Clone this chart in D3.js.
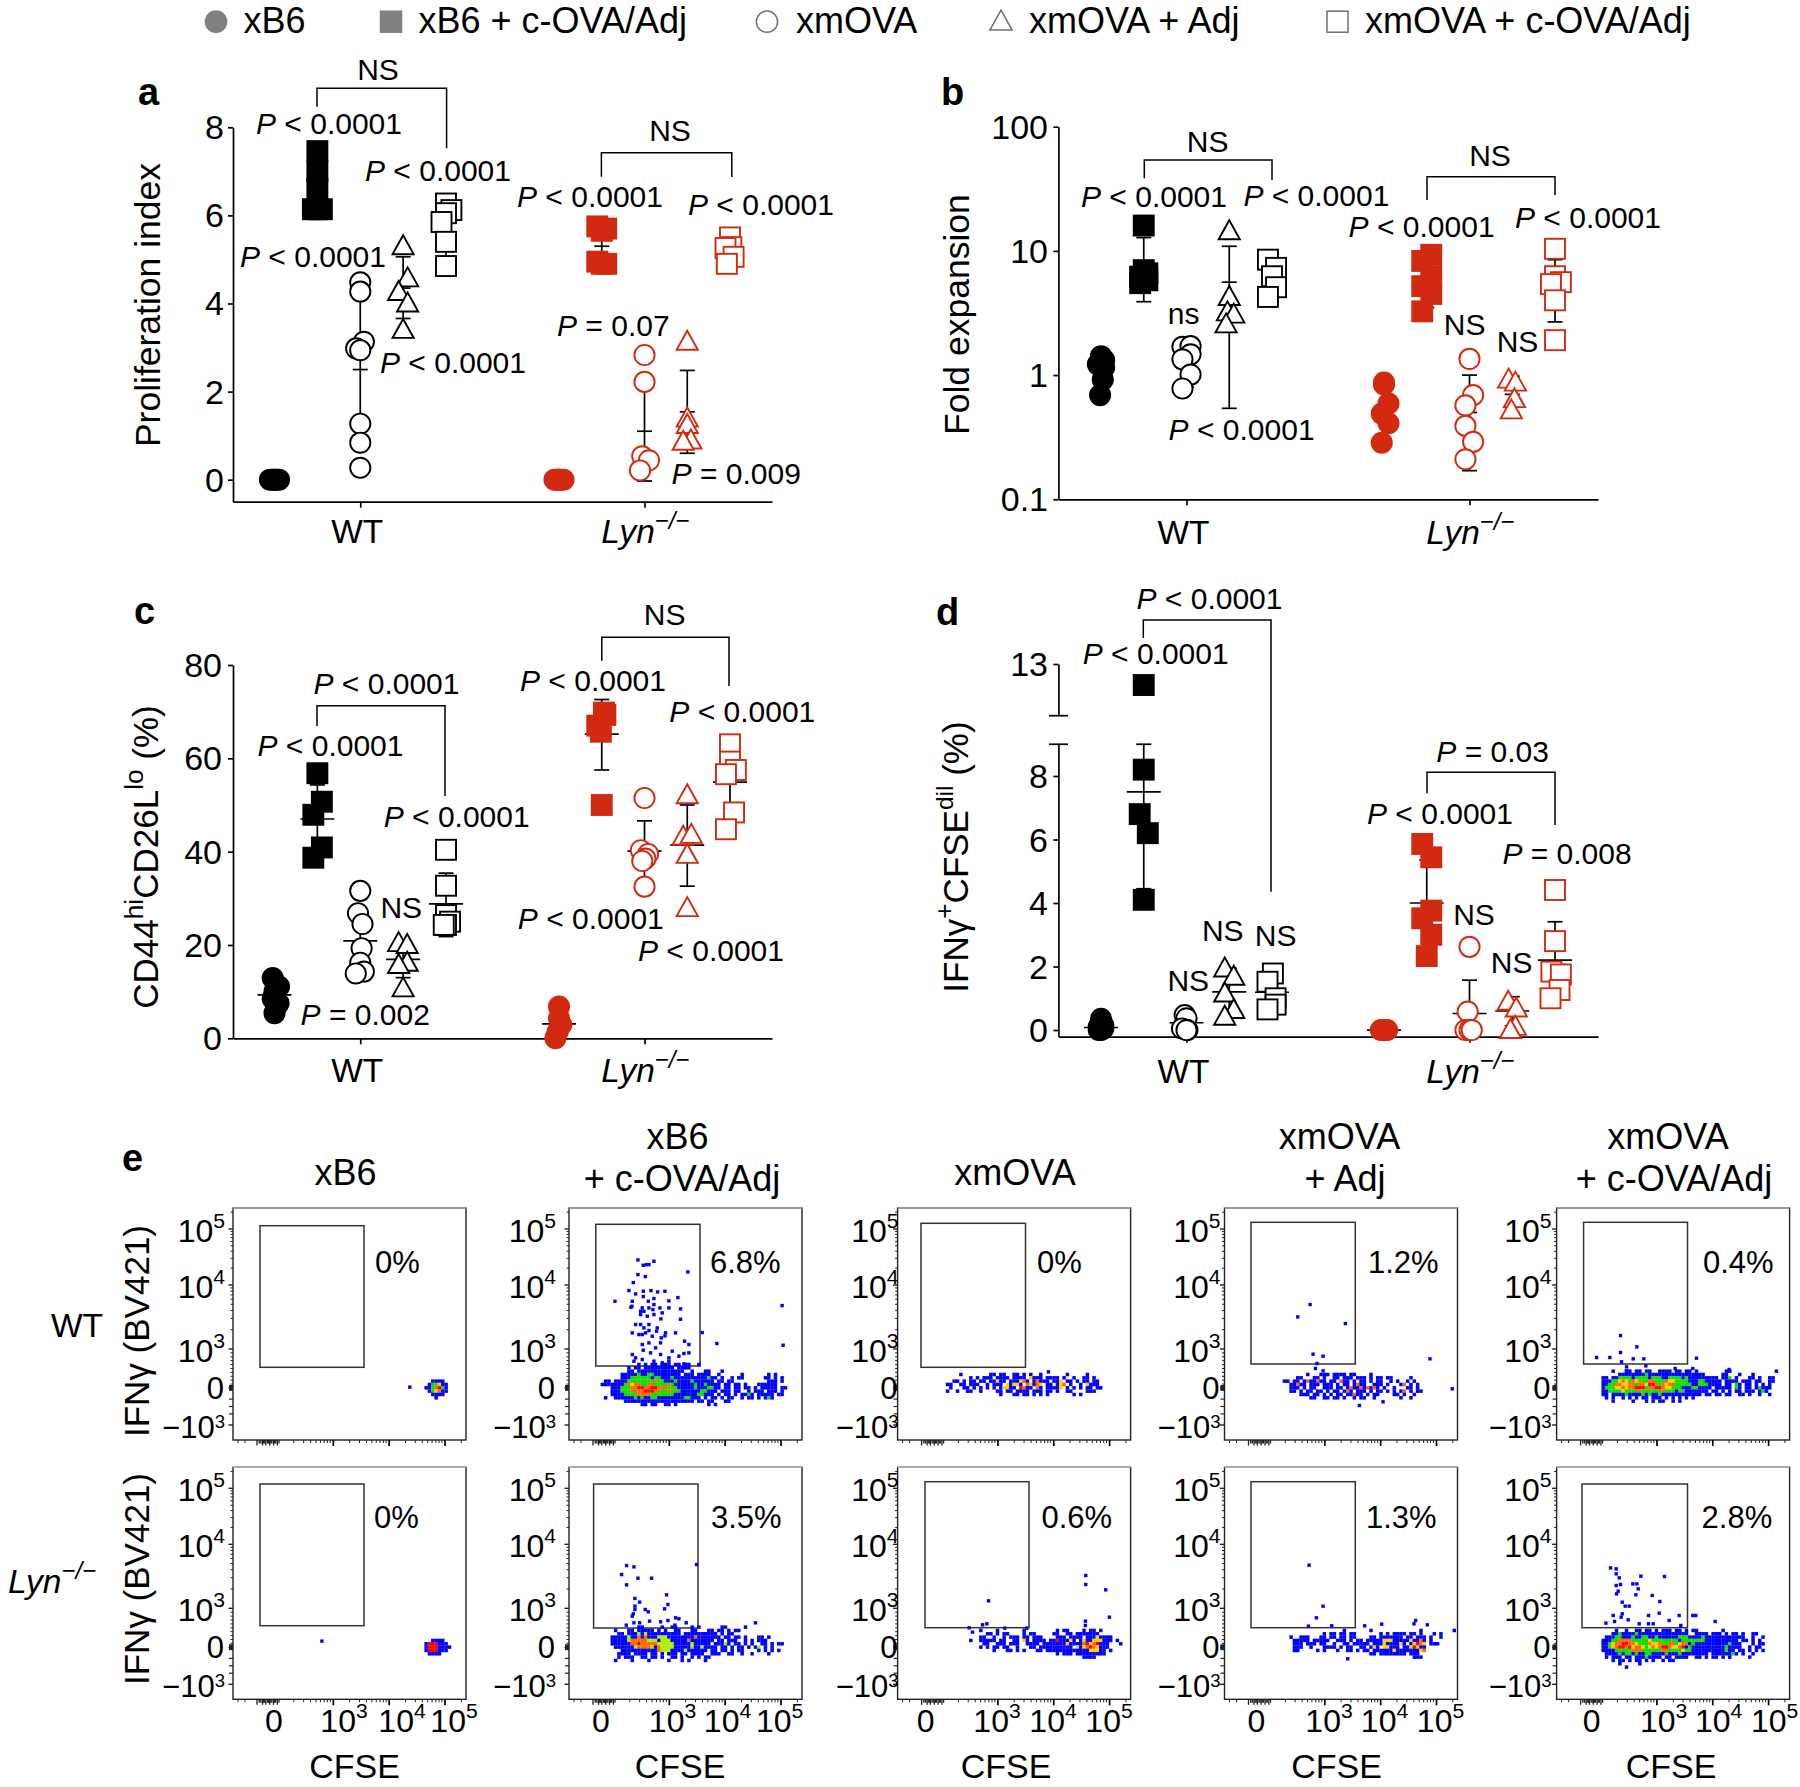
<!DOCTYPE html>
<html><head><meta charset="utf-8">
<script src="https://cdn.jsdelivr.net/npm/d3@7"></script>
<style>html,body{margin:0;padding:0;background:#fff}svg{display:block}text{font-family:"Liberation Sans",Arial,sans-serif;fill:#000}</style>
</head><body>
<svg id="c" width="1800" height="1787"></svg>
<script>
// ---------- categories & legend
const treatments = ["xB6","xB6 + c-OVA/Adj","xmOVA","xmOVA + Adj","xmOVA + c-OVA/Adj"];
const shapes = ["circle","square","circle","triangle","square"];
const filled = [1,1,0,0,0];
// ---------- panel a (10 groups: 5 WT then 5 Lyn-/-)
const aVals=[[0,0,0,0,0,0],[7.46,7.0,6.6,6.14,6.14,6.14],[4.48,4.27,3.13,2.98,2.94,1.27,.84,.27],[5.3,4.57,4.26,4,3.4],[6.27,6.12,6.05,5.85,5.4,4.85],
 [0,0,0,0,0,0],[5.75,5.7,5.65,4.95,4.9,4.9],[2.83,2.22,.53,.44,.21],[3.13,1.39,1.24,.89,.86],[5.5,5.28,5.26,5.06,4.9]];
const aSwarm=[[-1,-.5,0,.5,1,0],[0,0,0,-1,1,0],[0,0,.8,-.9,0,0,0,0],[0,1,-1,1,0],[0,1.2,0,-1,0,0],
 [-1,-.5,0,.5,1,0],[-1,1,0,-1,1,0],[0,0,-.5,1,-1],[0,0,0,.8,-.9],[0,.3,-1,.8,-.7]];
const aMean=[0,6.6,2.5,4.35,5.6,0,5.3,1.1,1.54,5.2];
const aLow=[0,6.0,.8,3.66,4.9,0,4.85,-.03,.6,4.9];
const aHigh=[0,7.2,4.2,5.06,6.3,0,5.75,2.2,2.48,5.5];
// ---------- panel b
const bVals=[[1.42,1.32,1.22,1.15,.92,.69],[16,7,6.6,6.2,5.8,5.5],[1.69,1.71,1.47,1.34,1.01,.78],[14.4,4.26,3.2,3.07,2.56],[8.5,7.3,6.25,5.1,4.26],
 [.87,.84,.59,.49,.41,.285],[9.3,8.3,6.25,5.2,4.5,3.26],[1.35,.69,.57,.39,.29,.21],[.92,.87,.64,.52],[10.4,6.25,5.6,5.4,4,1.91]];
const bSwarm=[[0,.7,-.7,.7,.4,-.2],[0,0,.8,-.8,.8,-.8],[-.9,.9,.9,-.9,.9,-.9],[0,0,-.4,1,-.7],[-.9,.9,0,.9,-.9],
 [0,0,1,-.5,1,-.5],[1,-1,1,-1,1,-1],[0,.8,-.9,-.9,.8,-.9],[-.8,.7,.5,-.2],[0,0,1.3,-.9,0,0]];
const bMean=[1.15,7.3,1.25,5.6,6.2,.5,5.5,.5,.7,5];
const bLow=[.8,3.9,.8,.54,4.4,.31,3.5,.17,.5,2.68];
const bHigh=[1.4,12.8,1.7,10.9,8.5,.74,8.5,1,.98,8.5];
// ---------- panel c
const cVals=[[12.9,11.1,10,8.5,7.5,6.8,5.4],[56.8,50.7,47.9,40.9,38.7],[31.6,26.8,24.5,19.3,16.2,14.3,13.9],[20.4,20,16.2,15.7,10.7],[40.4,32.7,26.4,25,24.3,24.3],
 [6.8,4.3,2.9,1.4,0],[69.8,69.3,67,65.7,50],[51.5,40.3,39.5,38.5,38,32.5],[52.1,43.2,43.6,39.3,27.9],[63,59.3,57.5,56.6,48.4,44.8]];
const cSwarm=[[-.4,1,0,-.4,.9,.4,0],[0,1,-.9,1,-.9],[0,-.5,.5,.3,0,.8,-1],[-1,.9,.9,-1,0],[0,0,0,.9,0,-.5],
 [0,0,.5,-.3,-.8],[.5,.8,-1,-.2,0],[0,-.8,.8,.2,-.5,0],[0,-.9,.9,0,0],[0,0,1.3,-.9,.9,-.9]];
const cMean=[9.3,47,20.9,16.9,28.8,3.1,65.2,40.1,41.4,54.9];
const cLow=[6,39.6,15,13,21.8,.5,57.5,33.9,32.6,47];
const cHigh=[12.5,54.3,26.8,20.8,35.4,5.8,72.6,46.6,50,62.5];
// ---------- panel d
const dVals=[[.35,.25,.15,.1,.05,0,0],[11.78,8.2,6.8,6.2,4.1],[.47,.37,.05,0,0],[1.94,1.68,1.15,.63,.42],[1.78,1.52,1,.8,.65],
 [0,0,0,0,0,0],[5.86,5.44,3.76,3.52,3,2.33],[2.62,.58,0,0,0],[.89,.68,.1,0],[4.41,2.8,1.84,1.75,1.26,1]];
const dSwarm=[[0,0,.5,-.5,.5,-.5,0],[0,0,-.9,.9,0],[-.4,0,-1,.2,0],[-1,1,-1,1,-1],[.2,-1,.8,.8,-1],
 [-.7,-.3,0,.3,.7,0],[-1,1,1,-1,1,0],[0,-.4,-.9,0,.5],[-.9,.9,.7,-.4],[0,0,-.8,1.3,1,-1]];
const dMean=[.08,7.5,.23,1.2,1.19,0,4,.52,.6,2.2];
const dLow=[0,4.45,0,.45,.7,0,2.6,0,.13,1];
const dHigh=[.25,9,.47,1.95,1.65,0,5.35,1.57,1.05,3.41];
// ---------- flow plots: density bands (b blue, g green, l lime, y yellow, o orange, r red) and sparse events (channel,row pairs)
const wtXb6Band={c0:58,r0:52,rows:["..bbbb.",".bggybb","bbgorgb",".bgyobb","..bbbb.","...b..."]};
const wtXb6Sparse=[53.1,53.8];
const wtCovaBand={c0:10,r0:47,rows:[
"...........b.b.bb.bbb.bb.bb..b",
"........b.bb.bbbbbbbbb.bbbb...",
"........bb.bbbbbbbbbbbbbb..b...bb...b",
"......bbbbbgbbggbbbbbbbb.bbb.bbbb..b......b.......b.b",
"......bbbggggggbggbbbgbbbbbbbbbbgbb.b..b.bb......bb.b.b",
".bb.bbbbggggggggoggbbbgbbbbgbbbbbb.bb.bb..........bbb.b",
"bbbbbbbgoyooggooggggogbbbbbbgbbgbbbb.bb.bb.b...bbbbbb",
"...bbbgggoorroorrooogggbbbbbgbbbggbb.bb.bb.bb.b.bbbbb.bb",
"...bbbgggoooorrrooggooggbbbbbbggbbb.bbb.bb..b.bbb.bbb.b",
"...bbbbggggoooogggggggbbbbbbbggbbb.b.bb.b.bbgb.bbbbb.bb",
".b..bbbbbbgbgbbggbbbbbbbbggbbb.b.bb.b.bb..b.bb.b.bgb",
".......bbbbbbbbbbbbbbbbbbbbb.bb.bb...bb",
"............bb.bb..bb.b.........b.b"]};
const wtCovaSparse=[20.7,15.6,25.5,16,22.3,17.2,23.3,17,24,17,35.7,19.2,20.7,20,22.9,20.6,19.3,22.4,18,24.8,22.3,25,24.6,24.8,26.6,25.2,28.8,25,20,25.8,13.8,28,19,28,22.3,26.6,23.8,28,25.5,27.2,30,27.9,32.7,26.9,64,29.3,18.6,29.8,18.9,29.5,22,30,24,30,25.5,29,25.2,30.5,27.3,30,30,30,33.5,30.3,21.5,31,22.5,31,21.5,32,23.5,32.5,25.5,32,28,31.5,27.6,33.3,33.5,33.4,20,35,21.5,35,24,35,22.5,36,26.5,36,19,37.5,23,37.5,24,36.8,26.3,37,29,37.5,32,37.5,40,37.4,21,38,22,38,25,38.5,27.7,39,28.8,38.4,22,41,24,40.5,27.5,40.5,34.7,40,44.4,40.7,64.3,41.2,36,41,22.3,42.7,26,42,31,43,36,43.5,19,44,20,45,24.5,43.5,27.5,44,30,45,33,44.5,34.5,43.7,19.5,46,22,45.5,25.5,46,28,46.5,30,46,34.5,46.8];
const wtOvaBand={c0:15,r0:50,rows:[
"....b........bb.bb..bb.b.b..b.......b.....b",
".......b.b.bbb.bbbb.bbbb.ybbb.bbbb.b..b..bb.b.",
"..bb.b.bb.bb.bbybb.bbbyob.bobbb.bby.bb.b.bb.bb",
"bb..bb.bbb..b.bbb.ybyyb.oyboy.bb.byo.b..b.ybbb",
".b...bb.b.b.b.b.byybb.robb.ob.bbbby.b.b.b.bb.bb",
"b..b..bb..b....bb.bb.bbbb.bbb.bb.b..bb....bbb",
"................b...bb.bb.b.b.b.......b.b"]};
const wtOvaSparse=[45.3,49.2];
const wtAdjBand={c0:18,r0:50,rows:[
".......b...bbb.bbbb.bb....b",
"....bb...bb.b..bb.bbb.bbb.b.bb.bb.....b",
"bb.bb.bobbobb.bb.obb.b.bb.b.bb..b.b..b.b",
"..bbobb.bbb.bbb.b.bb.bobb..bbb.b...bo.b.b",
"..bbb.b.bb..bbb.bb.bobbobobob.b..b...bb.b",
"..bb.b.bb.bb.b.bb.bob.bbb.b.bb.b.b.bo.b.bb",
".....bbb.bb.b.b.bb.bbobb.b.bb....bb.b..b",
"........bb..bb.bb.b..b.bb..b.......b..b"]};
const wtAdjSparse=[25.7,29,22,32.7,36.3,34.7,26.6,43.9,29.6,44.5,61.7,45.3,27.8,46.7,27.3,48.2,29.6,48.9,68.4,54.3,40.5,59.3,47.6,58.2];
const wtBothBand={c0:14,r0:49,rows:[
"...b...bb.bb.bb..bbbb.bb.bb.b........bb.............b",
".....bbbbbbbbgbbbbbbbbbbbbbbbbb.....bb...b...b",
"bb.bbggggbggggbgggbbggggbgbbbbbbbbb.bbg.b...bb.b..bb",
"bbbggyoygoyoggoogggoyyggggbbbggbbbbb.bbbb.bbb.bb..bb",
"bbggooyyoogooyrrogoyoogggggbbgggbbbb.bb.gb.bb.b.b.b",
"bgggyyoyoorrrgoorroyygggbbbggbbbb.bbbbb.gb.bb.bgbbb",
"bbggggyggggoggggggogggbggbbbbbbb.bb.b.b.bb.bbb.bgb",
"bb.bbbbgbbbbgbgbbgbbbbbbbbbbbb.bb.bb.bb..bb.b..b..b",
".b.b..b.b.b.bb.bbb.b.b.b.b.b",
"...b.....b...b.b.bb..b.b"]};
const wtBothSparse=[19.2,38.3,24.1,41.7,19.2,43.4,12,44.9,16,44.9,19.5,46.2,23,45.3,26.2,45.3,42,45.1,26.8,47.4,21,47.7,21,48.9,35.6,48.2,51.8,48.5,40.9,48.2];
const lynXb6Band={c0:58,r0:52,rows:["..bbbb..","brrrbbb.","brrrbbbb","brrrbbb.",".bbbb..."]};
const lynXb6Sparse=[26.7,52.2];
const lynCovaBand={c0:10,r0:48,rows:[
"...........bb.....b..bb....b.b......bb.....b",
"....b...bb.bbbbb.b.b..bb...bb...bb.bb.b.bb",
".....bb.bbblblbbbbbbbbbb.bbbbbbbbbb.b.bb",
"...bbbbblbbobobbblllbbbbbbbbobbbbbbb.bb.bb.b...bb.b",
"...bbbbblooooolllblllbbbbbobbbbbbb.bb.bbb..b.b.bbb",
"...bbbbbboorooooolllllbbbbblbbbbb.bbblb.bb.b.b..bb.b.bb",
"....bbbbbbloooolbollllbbbbblbblbbbb.bb.b.bb.b.bl.b.b",
"......bbbbbbbbbbbolllbbbblbbbbbb.bb.bb.b.bb....b.b.b.b",
".....bbbb.bbbb.bb.b.bbb.bb.bbbb..bbb..bb..b..b....b",
".....b.bbb..bb.bb.b..bb.b..b.b.bb",
"....b....b....b.....b...b.b....b"]};
const lynCovaSparse=[17.3,29.5,19.5,29.9,38.3,29.2,15.8,32.2,20.7,33.3,24.8,33.3,17.3,35.3,29.3,38.3,19.8,39.4,21.2,40.5,29.7,41.2,19.8,41.7,19.8,42.7,28.7,42.5,22.9,42.7,23.8,43.4,19.3,44,19,44.7,32,45.2,33,45.5,17.2,47.4,19.5,46.7,21.2,46.7,24.2,46.2,27.5,46.4,29.7,46,31.8,47.4,35.2,46.7,56,46.7];
const lynOvaBand={c0:22,r0:49,rows:[
"...b....b.......b.........b.bb....b.bb.b",
".....bb.b.bb....b.bb.....bb..bb.bbbbbbb",
"...bb..b..b.bbb.bb.bbb....bbb.bbbb.bbbybbbb",
"b..bbbbb.bb..bb.yb.bbbb.bbrbbbyb.bybbyyybbb.b",
"....bb..bbb.bbb..bbbb.bbbbbbbybbbboryorbbb...b",
"...b.b.bb.bb..b...bb.bbbbbbbbbb.ybyoroybbb",
".......b...bb.b.b...bb.bbbbbbbbbbbbbyyybb.b",
"..........................b.bbb.bbbbbbbbb",
"..................................bbbb"]};
const lynOvaSparse=[56.5,32.5,56.5,35.2,62.5,36.8,27.3,40.1,63.6,45,56.4,46.2,56.4,47.5,26.8,47,25.5,47.3,21.5,48.2,32.2,48.3,38.8,48.3,22.5,49.5];
const lynAdjBand={c0:20,r0:49,rows:[
"................b.......b..............b.........b",
"..........b.bb.bb.bb.......b.b.bbbb.bb.b...b.b",
"b..bbb...bb.bb.bb.bb....bb.bbbbbbb.bb.bbb.b..b",
".bbbbb.bbbbb..bbb.b.bb.bbbbbyyybbbbbybbob.b",
".bbb.bbb.bb..b..bb.bbbbb.bbbybbbbyb.byroy.bbb",
".bbb..b...bbbb.b.bb..bb.byb.yybbb.bbyrybb",
".bb.....b.b...b..bb.b.bb.bbbbbbybbbbbbbyo",
"........................bb.bbbbbbbb.bbb",
".....................................bbb"]};
const lynAdjSparse=[25.4,29.4,29.6,41.7,27.6,45.2,25.2,47.7,32.2,47.6,42.1,47.6,47.2,47.1,57.4,46,56.9,47,60.9,47.3,37,57.5];
const lynBothBand={c0:14,r0:49,rows:[
"....b..b..bb.bb.b.bbb.bb.b.bb.......b",
"...bbgbbbbgbbbbbbbbbbbbbbb..bbbb.bbb.b.bb.b..bb",
".bbbggbbbgbbggbbgbbbbbbgggbbbbgbbbbbbbbbbbb..b..b",
"bbbggoooogggggyggggggggbgggggggbbbbbbbbbb.bb.b.b",
"bbgyoorrooygggoyyoggoogyoobgbbbbbbbbbbgbbb...b.bb",
"bbgyorroryooygyoyorroyyorbgbbbbbbbbbbgbbbb..b.bb",
"bbbbgggggoooggggggooggggyggbbbbbbbbbbgbb.bb.b.b.b",
".bbbbgbggbgbbggbbbbgbbbgbbbbbbbb.bbbbbbgb.b..b",
".b.bbb.bb.bbbgbbbb.bb.bbbb..bb.b.bb.b.b.....b",
"...b.bb.b.bb.b.b..b.bb",
".....b.....b",
".......b"]};
const lynBothSparse=[16.2,30.2,17.9,30.5,17.9,32,18.8,33.2,25.3,32.7,32.4,32.8,17.9,35.5,19.2,35.2,18.5,37.2,24.1,35,22.9,35,24.5,36.5,23.8,38.3,28.7,38.5,18,38,31,40.3,19.7,40.5,20.6,41.7,21.8,41.7,19.7,44,19.4,45,17,44.5,27.6,44.5,30.8,43.8,36.8,44.5,40.9,44.5,41.8,44.5,47.6,46.3,14.8,46.8,17.4,46.3,21.5,45.8,24.8,47,27.6,47,29,47,33.8,46,37.3,47.5];
const wtPercent=["0%","6.8%","0%","1.2%","0.4%"];
const lynPercent=["0%","3.5%","0.6%","1.3%","2.8%"];
const yMajor=[-1e3,0,1e3,1e4,1e5];
const xMajor=[1e3,1e4,1e5];
const yMinorHigh=[2e3,3e3,4e3,5e3,6e3,7e3,8e3,9e3,2e4,3e4,4e4,5e4,6e4,7e4,8e4,9e4,2e5];
const yMinorLow=[100,200,300,400,500,600,700,800,900];
const yNearZero=[-60,-45,-30,-15,15,30,45,60,-500,-700,-300];
const xMinor=[200,300,400,500,600,700,800,900,2e3,3e3,4e3,5e3,6e3,7e3,8e3,9e3,2e4,3e4,4e4,5e4,6e4,7e4,8e4,9e4,2e5];
const xNearZero=[-100,-80,-65,-50,-40,-30,-20,-5,5,15,25,35,50,60,70,85,100];
const xFarNeg=[-300,-220];

const red="#d22a10", black="#000";
const dotColor={b:"#0000ff",g:"#10e000",l:"#aaee00",y:"#ffd000",o:"#ff6a00",r:"#ff0000"};
const svg=d3.select("#c");

function txt(g,x,y,segs,o={}){
  const size=o.size||30;
  const t=g.append("text").attr("font-size",size).attr("text-anchor",o.anchor||"start")
    .attr("transform",`translate(${x},${y})`+(o.rot?` rotate(${o.rot})`:""));
  if(o.bold)t.attr("font-weight","bold");
  if(typeof segs==="string")segs=[[segs]];
  let off=0;
  segs.forEach(([s,p={}])=>{
    const sp=t.append("tspan").text(s);
    const target=p.sup?-(size*(p.up||.42)):0;
    if(target!==off){sp.attr("dy",target-off);off=target;}
    if(p.sup)sp.attr("font-size",size*(p.k||.68));
    if(p.i)sp.attr("font-style","italic");
  });
  return t;
}
const pv=s=>[["P",{i:1}],[" "+s]];
const lyn=[["Lyn",{i:1}],["\u2212/\u2212",{sup:1,i:1,k:.72}]];
const pow=e=>[["10"],[String(e),{sup:1,k:.66}]];

function symbol(g,kind,x,y,fill,stroke,s=1){
  if(kind==="circle")return g.append("circle").attr("cx",x).attr("cy",y).attr("r",10.1*s).attr("fill",fill).attr("stroke",stroke).attr("stroke-width",1.9);
  if(kind==="square")return g.append("rect").attr("x",x-10*s).attr("y",y-10*s).attr("width",20*s).attr("height",20*s).attr("fill",fill).attr("stroke",stroke).attr("stroke-width",1.9);
  return g.append("path").attr("d",d3.line()([[x,y-11*s],[x+10.6*s,y+8*s],[x-10.6*s,y+8*s]])+"Z").attr("fill",fill).attr("stroke",stroke).attr("stroke-width",1.9);
}
function styleAxis(a){a.selectAll("path,line").attr("stroke","#000").attr("stroke-width",1.7);a.selectAll("text").remove();}

function dotPanel(p){
  const g=svg.append("g");
  const xA=d3.axisBottom(p.x).tickValues([2,7]).tickSize(6).tickSizeOuter(0).tickFormat("");
  styleAxis(g.append("g").attr("transform",`translate(0,${p.axisY})`).call(xA));
  p.drawY(g);
  const eg=g.append("g");
  p.vals.forEach((_,i)=>{
    const x=p.x(i);
    eg.append("line").attr("x1",x).attr("x2",x).attr("y1",p.y(p.low[i])).attr("y2",p.y(p.high[i]));
    [p.low[i],p.high[i]].forEach(v=>eg.append("line").attr("x1",x-7.5).attr("x2",x+7.5).attr("y1",p.y(v)).attr("y2",p.y(v)));
    eg.append("line").attr("x1",x-p.meanW/2).attr("x2",x+p.meanW/2).attr("y1",p.y(p.mean[i])).attr("y2",p.y(p.mean[i]));
  });
  eg.selectAll("line").attr("stroke","#000").attr("stroke-width",1.7);
  p.vals.forEach((vs,i)=>{
    const col=i<5?black:red, t=i%5;
    const s=g.append("g");
    d3.range(vs.length).forEach(j=>{
      symbol(s,shapes[t],p.x(i)+p.swarm[i][j]*4.5,p.y(vs[j]),filled[t]?col:"#fff",col);
    });
  });
  txt(g,p.x(2)-3,p.catY,"WT",{size:33.5,anchor:"middle"});
  txt(g,p.x(7)+1,p.catY,lyn,{size:33.5,anchor:"middle"});
  (p.brackets||[]).forEach(b=>{
    g.append("path").attr("d",d3.line()([[b[0],b[2]],[b[0],b[1]],[b[3],b[1]],[b[3],b[4]]])).attr("fill","none").attr("stroke","#000").attr("stroke-width",1.5);
  });
  (p.labels||[]).forEach(l=>txt(g,l[0],l[1],l[2],{size:30,anchor:l[3]||"start"}));
}
function linearYAxis(y,ticks,xA,labelX,dy){
  return g=>{
    const a=d3.axisLeft(y).tickValues(ticks).tickSize(5).tickSizeOuter(0);
    styleAxis(g.append("g").attr("transform",`translate(${xA},0)`).call(a));
    ticks.forEach(t=>txt(g,labelX,y(t)+dy,String(t),{size:34,anchor:"end"}));
  };
}

// ---- Legend
const legG=svg.append("g");
const legendItems=[[216,243.5],[391,418.5],[767,796],[1001,1029],[1337.5,1365]];
treatments.forEach((t,i)=>{
  const f=filled[i]?"#808080":"#fff";
  const st=filled[i]?"#808080":"#707070";
  symbol(legG,shapes[i],legendItems[i][0],21.7,f,st,1.05).attr("stroke-width",1.5);
  txt(legG,legendItems[i][1],32.5,t,{size:36});
});

// ---- a
const ax=d3.scaleLinear([-.97,0,4,5,9,9.98],[233,274.5,446,559,730,772]);
const ay=d3.scaleLinear([-.5,8],[501.7,127.3]);
dotPanel({x:ax,y:ay,axisY:501.7,catY:543,vals:aVals,swarm:aSwarm,mean:aMean,low:aLow,high:aHigh,meanW:15,
 drawY:linearYAxis(ay,[0,2,4,6,8],233,224,12),
 brackets:[[317,88.3,106.7,446.6,148.3],[601.4,152.7,176.7,731.8,177]],
 labels:[[378,80,"NS","middle"],[670,140.7,"NS","middle"],[256,134,pv("< 0.0001")],[365,180.7,pv("< 0.0001")],[517,207,pv("< 0.0001")],[688,214.7,pv("< 0.0001")],[240,266.7,pv("< 0.0001")],[380,372.7,pv("< 0.0001")],[557,336,pv("= 0.07")],[671.6,484,pv("= 0.009")]]});
txt(svg,138,105,"a",{size:38,bold:1});
txt(svg,159.5,305,"Proliferation index",{size:35.5,anchor:"middle",rot:-90});

// ---- b
const bx=d3.scaleLinear([-.985,0,4,5,9,10.0],[1058.4,1101,1272,1384,1555,1598]);
const by=d3.scaleLog([.1,100],[499.3,126.7]);
dotPanel({x:bx,y:by,axisY:499.3,catY:544,vals:bVals,swarm:bSwarm,mean:bMean,low:bLow,high:bHigh,meanW:15,
 drawY:g=>{const t=[.1,1,10,100];styleAxis(g.append("g").attr("transform","translate(1058.4,0)").call(d3.axisLeft(by).tickValues(t).tickSize(5).tickSizeOuter(0)));
   t.forEach(v=>txt(g,1048,by(v)+12,String(v),{size:34,anchor:"end"}));},
 brackets:[[1144.3,160,178.3,1272,180],[1427,176.7,200,1555,195]],
 labels:[[1207.6,151.7,"NS","middle"],[1490,166,"NS","middle"],[1081,206.7,pv("< 0.0001")],[1243.4,206,pv("< 0.0001")],[1348.6,237.3,pv("< 0.0001")],[1515,228.3,pv("< 0.0001")],[1183.7,324,"ns","middle"],[1464.7,335,"NS","middle"],[1517.5,351.7,"NS","middle"],[1168.6,440,pv("< 0.0001")]]});
txt(svg,941,105,"b",{size:38,bold:1});
txt(svg,969,314.6,"Fold expansion",{size:35.5,anchor:"middle",rot:-90});

// ---- c
const cy=d3.scaleLinear([0,80],[1038.3,665]);
dotPanel({x:ax,y:cy,axisY:1038.3,catY:1081.7,vals:cVals,swarm:cSwarm,mean:cMean,low:cLow,high:cHigh,meanW:34,
 drawY:linearYAxis(cy,[0,20,40,60,80],233,222,12),
 brackets:[[317,705.7,726,445,796],[601.8,637.3,660.7,729,686]],
 labels:[[313.5,694,pv("< 0.0001")],[257.5,755.7,pv("< 0.0001")],[383.7,827.3,pv("< 0.0001")],[520,690.7,pv("< 0.0001")],[669.3,721.7,pv("< 0.0001")],[517.8,929,pv("< 0.0001")],[638,960.7,pv("< 0.0001")],[300.6,1025,pv("= 0.002")],[401.3,917.7,"NS","middle"],[664.7,625,"NS","middle"]]});
txt(svg,134,624,"c",{size:38,bold:1});
txt(svg,158,857,[["CD44"],["hi",{sup:1,k:.75}],["CD26L"],["lo",{sup:1,k:.75}],[" (%)"]],{size:35,anchor:"middle",rot:-90});

// ---- d (broken axis)
const dyLow=d3.scaleLinear([-.21,9],[1036.7,744.25]);
const dyHigh=d3.scaleLinear([10,13],[715.7,664]);
const dy=v=>v>9.5?dyHigh(v):dyLow(v);
dotPanel({x:bx,y:dy,axisY:1036.7,catY:1083,vals:dVals,swarm:dSwarm,mean:dMean,low:dLow,high:dHigh,meanW:34,
 drawY:g=>{
   const t=[0,2,4,6,8];
   styleAxis(g.append("g").attr("transform","translate(1058.4,0)").call(d3.axisLeft(dyLow).tickValues(t).tickSize(5).tickSizeOuter(0)));
   styleAxis(g.append("g").attr("transform","translate(1058.4,0)").call(d3.axisLeft(dyHigh).tickValues([13]).tickSize(5).tickSizeOuter(0)));
   t.forEach(v=>txt(g,1048,dyLow(v)+12,String(v),{size:34,anchor:"end"}));
   txt(g,1048,dyHigh(13)+12,"13",{size:34,anchor:"end"});
   [dyLow(9),dyHigh(10)].forEach(y=>g.append("line").attr("x1",1049).attr("x2",1068).attr("y1",y).attr("y2",y).attr("stroke","#000").attr("stroke-width",1.7));
 },
 brackets:[[1143.3,620,638,1271,891.7],[1427,772.3,793.3,1555,825]],
 labels:[[1136.5,609.3,pv("< 0.0001")],[1082.7,664,pv("< 0.0001")],[1436.3,762.3,pv("= 0.03")],[1367,824,pv("< 0.0001")],[1502.4,864,pv("= 0.008")],[1222.8,940.7,"NS","middle"],[1275.6,945.7,"NS","middle"],[1188.3,990.7,"NS","middle"],[1474,925,"NS","middle"],[1511.6,973.3,"NS","middle"]]});
txt(svg,936,625,"d",{size:38,bold:1});
txt(svg,967.5,857,[["IFN\u03b3"],["+",{sup:1,k:.75}],["CFSE"],["dil",{sup:1,k:.7}],[" (%)"]],{size:35,anchor:"middle",rot:-90});

// ---- e flow panels
const lefts=[233,569,897.6,1224.5,1556.6];
const tops=[1208,1467.3];
const panelW=233, panelH=232;
const gatesX=[[[260,364],[595.8,700],[921,1025.5],[1251,1355.3],[1583.6,1687.5]],[[260,364],[593.6,698],[925,1029],[1251,1355.3],[1582,1687.5]]];
const gatesY=[[[1225.7,1367.3],[1224.3,1366],[1223.3,1367.3],[1222.3,1364],[1222.3,1364]],[[1484,1625.7],[1484,1628],[1481.7,1627.7],[1481.7,1627.7],[1484,1627.7]]];
const pctX=[[375,710,1037,1368,1703],[374,711,1041.4,1366,1701.6]];
const yLabelGap=[8,13,-1,4,5];
const xLabelOffsets=[[41,111,169,221],[32,103.5,158.5,210.7],[28,99.4,155.4,211.4],[32,104.5,160,216],[35,107,162,218]];
const cfseX=[354.6,680,1006,1336.6,1671];
const bands=[[wtXb6Band,wtCovaBand,wtOvaBand,wtAdjBand,wtBothBand],[lynXb6Band,lynCovaBand,lynOvaBand,lynAdjBand,lynBothBand]];
const sparse=[[wtXb6Sparse,wtCovaSparse,wtOvaSparse,wtAdjSparse,wtBothSparse],[lynXb6Sparse,lynCovaSparse,lynOvaSparse,lynAdjSparse,lynBothSparse]];
const pcts=[wtPercent,lynPercent];

tops.forEach((top,row)=>{
  lefts.forEach((left,col)=>{
    const g=svg.append("g");
    const cx=d3.scaleLinear([0,70],[left,left+233.1]);
    const cy2=d3.scaleLinear([0,70],[top,top+233.1]);
    const yHi=d3.scaleLog([1e3,1e4,1e5],[top+141,top+77,top+21]);
    const yLo=d3.scaleLinear([-1e3,0,1e3],[top+217,top+180,top+141]);
    const yS=v=>v>=1e3?yHi(v):yLo(v);
    const xS=d3.scaleLog([100,1e5],[left+44,left+211.5]);
    const xNear=d3.scaleLinear([-100,100],[left+24,left+46]);
    const xFar=d3.scaleLinear([-300,-220],[left+5,left+12]);
    g.append("rect").attr("x",left).attr("y",top).attr("width",panelW).attr("height",panelH).attr("fill","#fff").attr("stroke","#222").attr("stroke-width",1.4);
    g.append("line").attr("x1",left).attr("x2",left+panelW).attr("y1",top).attr("y2",top).attr("stroke","#aaa").attr("stroke-width",1.6);
    const xaxis=g.append("g").attr("transform",`translate(0,${top+panelH})`);
    styleAxis(xaxis.call(d3.axisBottom(xS).tickValues(xMajor).tickSize(6).tickSizeOuter(0).tickFormat("")));
    xaxis.select(".domain").remove();
    const tick=(x1,x2,y1,y2,w)=>g.append("line").attr("x1",x1).attr("x2",x2).attr("y1",y1).attr("y2",y2).attr("stroke","#222").attr("stroke-width",w||1);
    xMinor.forEach(v=>tick(xS(v),xS(v),top+panelH,top+panelH+3));
    xNearZero.forEach((v,i)=>tick(xNear(v),xNear(v),top+panelH,top+panelH+(i%3===0?5.5:3.5),1.3));
    xFarNeg.forEach(v=>tick(xFar(v),xFar(v),top+panelH,top+panelH+3));
    yMajor.forEach(v=>tick(left-4.5,left,yS(v),yS(v),1.4));
    yMinorHigh.forEach(v=>{if(yS(v)>top)tick(left-2.5,left,yS(v),yS(v));});
    yMinorLow.forEach(v=>tick(left-2.5,left,yS(v),yS(v)));
    yNearZero.forEach(v=>tick(left-4,left,yS(v),yS(v),1.2));
    const gx=gatesX[row][col],gy=gatesY[row][col];
    g.append("rect").attr("x",gx[0]).attr("y",gy[0]).attr("width",gx[1]-gx[0]).attr("height",gy[1]-gy[0]).attr("fill","none").attr("stroke","#333").attr("stroke-width",1.5);
    const dg=g.append("g");
    const b=bands[row][col];
    b.rows.forEach((s,j)=>{
      [...s].forEach((ch,i)=>{
        if(ch==="."||!dotColor[ch])return;
        dg.append("rect").attr("x",cx(b.c0+i)-1.75).attr("y",cy2(b.r0+j)-1.75).attr("width",3.5).attr("height",3.5).attr("fill",dotColor[ch]);
      });
    });
    const sp=sparse[row][col];
    for(let k=0;k<sp.length;k+=2){
      dg.append("rect").attr("x",cx(sp[k])-1.7).attr("y",cy2(sp[k+1])-1.7).attr("width",3.4).attr("height",3.4).attr("fill",dotColor.b);
    }
    const yR=left-yLabelGap[col];
    [[1e5,5],[1e4,4],[1e3,3]].forEach(([v,e])=>txt(g,yR,yS(v)+12.5,pow(e),{size:32,anchor:"end"}));
    txt(g,yR-1,yS(0)+10.5,"0",{size:31,anchor:"end"});
    txt(g,yR,yS(-1e3)+13,[["\u2212"],["10"],["3",{sup:1,k:.6,up:.32}]],{size:31,anchor:"end"});
    txt(g,pctX[row][col],row?1528:1272.7,pcts[row][col],{size:31});
    if(row===1){
      const off=xLabelOffsets[col];
      txt(g,left+off[0],1731.7,"0",{size:32,anchor:"middle"});
      [3,4,5].forEach((e,i)=>txt(g,left+off[i+1],1731.7,pow(e),{size:32,anchor:"middle"}));
      txt(g,cfseX[col],1778,"CFSE",{size:34,anchor:"middle"});
    }
  });
});
const titleRows=[[345.6,1185,"xB6"],[677.5,1149,"xB6"],[682,1191,"+ c-OVA/Adj"],[1015,1185,"xmOVA"],[1339.5,1149,"xmOVA"],[1345,1191,"+ Adj"],[1668,1149,"xmOVA"],[1674,1191,"+ c-OVA/Adj"]];
titleRows.forEach(t=>txt(svg,t[0],t[1],t[2],{size:36,anchor:"middle"}));
txt(svg,122,1171,"e",{size:38,bold:1});
txt(svg,51,1337,"WT",{size:33.5});
txt(svg,8,1593,lyn,{size:33.5});
txt(svg,149,1331,"IFN\u03b3 (BV421)",{size:35,anchor:"middle",rot:-90});
txt(svg,149,1579,"IFN\u03b3 (BV421)",{size:35,anchor:"middle",rot:-90});
</script>
</body></html>
